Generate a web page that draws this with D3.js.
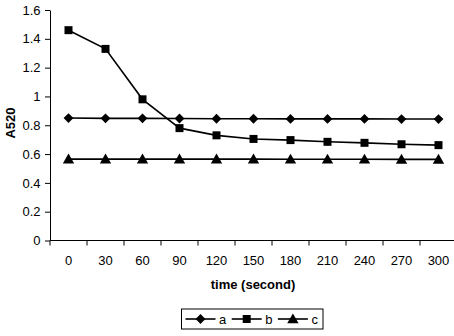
<!DOCTYPE html>
<html>
<head>
<meta charset="utf-8">
<script src="https://cdn.jsdelivr.net/npm/d3@7"></script>
<style>
  body { margin: 0; background: #fff; }
  svg { display: block; font-family: Arial, "Liberation Sans", sans-serif; }
</style>
</head>
<body>
<svg id="chart"></svg>
<script>
const times = [0, 30, 60, 90, 120, 150, 180, 210, 240, 270, 300];
const seriesA = [0.85, 0.848, 0.848, 0.847, 0.845, 0.845, 0.844, 0.844, 0.844, 0.843, 0.843];
const seriesB = [1.46, 1.33, 0.98, 0.78, 0.73, 0.705, 0.697, 0.685, 0.678, 0.668, 0.662];
const seriesC = [0.565, 0.565, 0.565, 0.565, 0.565, 0.565, 0.564, 0.564, 0.564, 0.563, 0.563];
const yTicks = [0, 0.2, 0.4, 0.6, 0.8, 1, 1.2, 1.4, 1.6];
const seriesNames = ['a', 'b', 'c'];

const W = 454, H = 336;
const margin = {top: 10, right: 0, bottom: 96, left: 50};
const width = W - margin.left - margin.right;

const svg = d3.select('#chart').attr('width', W).attr('height', H);
const g = svg.append('g').attr('transform', 'translate(' + margin.left + ',' + margin.top + ')');

const x = d3.scaleBand().domain(times).range([0, 407]);
const y = d3.scaleLinear().domain([0, 1.6]).range([230.5, 0]);
const cx = d => x(d) + x.bandwidth() / 2;

// y axis
const yAxis = d3.axisLeft(y).tickValues(yTicks).tickSize(5).tickSizeOuter(0)
  .tickFormat(d => String(+d.toFixed(1)));
g.append('g').call(yAxis).call(a => {
  a.attr('font-family', null).attr('font-size', null);
  a.select('.domain').attr('stroke', '#000');
  a.selectAll('.tick line').attr('stroke', '#000');
  a.selectAll('.tick text').attr('font-size', 13).attr('fill', '#000').attr('x', -9.5);
});

// x axis: ticks between categories
const xg = g.append('g').attr('transform', 'translate(0,' + y(0) + ')');
xg.append('line').attr('x1', 0).attr('x2', width).attr('stroke', '#000');
xg.selectAll('line.tk').data(times.concat(['end'])).enter().append('line')
  .attr('class', 'tk')
  .attr('x1', (d, i) => i * x.step()).attr('x2', (d, i) => i * x.step())
  .attr('y1', 0).attr('y2', 5).attr('stroke', '#000');
xg.selectAll('text').data(times).enter().append('text')
  .attr('x', d => cx(d)).attr('y', 24.5)
  .attr('text-anchor', 'middle').attr('font-size', 13)
  .text(d => d);

// axis titles
svg.append('text')
  .attr('transform', 'translate(15,123) rotate(-90)')
  .attr('text-anchor', 'middle').attr('font-size', 13).attr('font-weight', 'bold')
  .text('A520');
svg.append('text')
  .attr('x', 253).attr('y', 289)
  .attr('text-anchor', 'middle').attr('font-size', 13).attr('font-weight', 'bold')
  .text('time (second)');

// series
const diamond = {draw(ctx, size) { const r = Math.sqrt(size / 2); ctx.moveTo(0, -r); ctx.lineTo(r, 0); ctx.lineTo(0, r); ctx.lineTo(-r, 0); ctx.closePath(); }};
const symbols = [diamond, d3.symbolSquare, d3.symbolTriangle];
const sizes = [48, 64, 56];
const data = [seriesA, seriesB, seriesC];
const line = d3.line().x((d, i) => cx(times[i])).y(d => y(d));

data.forEach((vals, k) => {
  g.append('path').datum(vals).attr('d', line)
    .attr('fill', 'none').attr('stroke', '#000').attr('stroke-width', 1.6);
  g.selectAll('path.m' + k).data(vals).enter().append('path')
    .attr('class', 'm' + k)
    .attr('transform', (d, i) => 'translate(' + cx(times[i]) + ',' + (y(d) + (k === 2 ? 1 : 0)) + ')')
    .attr('d', d3.symbol().type(symbols[k]).size(sizes[k]))
    .attr('fill', '#000');
});

// legend
const lg = svg.append('g').attr('transform', 'translate(181.5,309)');
lg.append('rect').attr('width', 141.5).attr('height', 20)
  .attr('fill', '#fff').attr('stroke', '#000');
const item = lg.selectAll('g.item').data(seriesNames).enter().append('g')
  .attr('transform', (d, i) => 'translate(' + (4 + i * 46.2) + ',10)');
item.append('line').attr('x1', 0).attr('x2', 30).attr('stroke', '#000').attr('stroke-width', 1.6);
item.append('path')
  .attr('transform', (d, i) => 'translate(15,' + (i === 2 ? 1 : 0) + ')')
  .attr('d', (d, i) => d3.symbol().type(symbols[i]).size(sizes[i])())
  .attr('fill', '#000');
item.append('text').attr('x', 33.5).attr('y', 5).attr('font-size', 13).text(d => d);
</script>
</body>
</html>
